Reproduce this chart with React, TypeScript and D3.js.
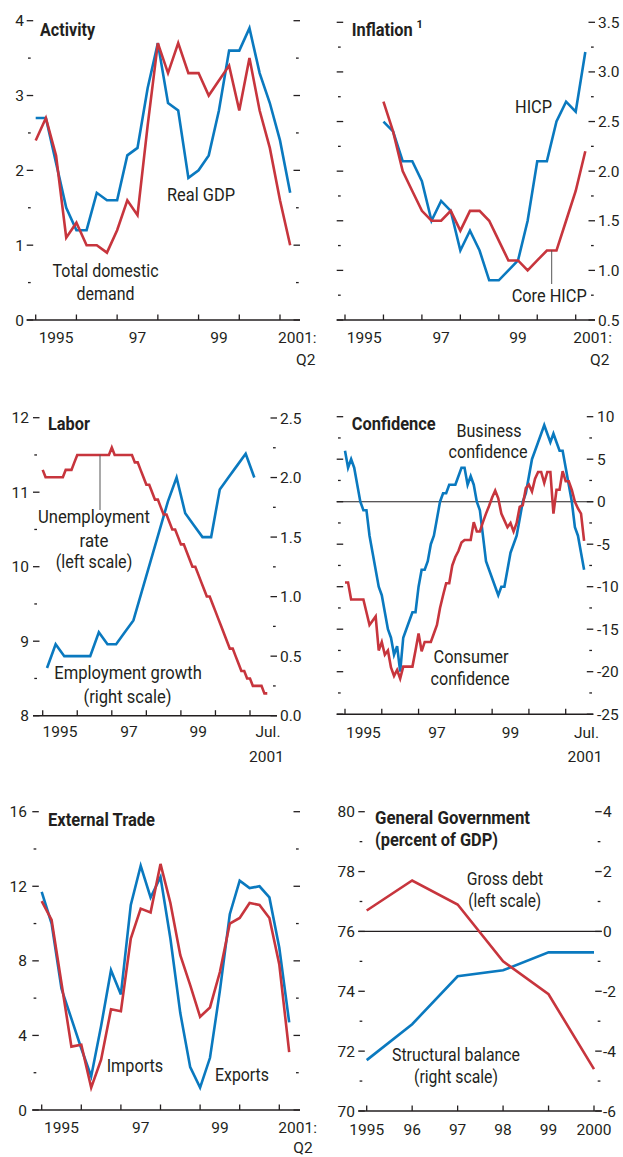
import React from "react";
import * as d3 from "d3";

const FONT = "Roboto, 'Liberation Sans', Arial, sans-serif";
const BLUE = "#0a79bf";
const RED = "#c7353d";
const INK = "#231f20";

// ---------- DATA ----------
// Activity, quarterly 1995Q1–2001Q2
const activityRealGDP = [2.7, 2.7, 2.1, 1.5, 1.2, 1.2, 1.7, 1.6, 1.6, 2.2, 2.3, 3.1, 3.7, 2.9, 2.8, 1.9, 2.0, 2.2, 2.8, 3.6, 3.6, 3.9, 3.3, 2.9, 2.4, 1.7];
const activityDomesticDemand = [2.4, 2.7, 2.2, 1.1, 1.3, 1.0, 1.0, 0.9, 1.2, 1.6, 1.4, 2.6, 3.7, 3.3, 3.7, 3.3, 3.3, 3.0, 3.2, 3.4, 2.8, 3.5, 2.8, 2.3, 1.6, 1.0];

// Inflation, quarterly 1996Q1–2001Q2
const inflationHICP = [2.5, 2.4, 2.1, 2.1, 1.9, 1.5, 1.7, 1.6, 1.2, 1.4, 1.2, 0.9, 0.9, 1.0, 1.1, 1.5, 2.1, 2.1, 2.5, 2.7, 2.6, 3.2];
const inflationCore = [2.7, 2.4, 2.0, 1.8, 1.6, 1.5, 1.5, 1.6, 1.4, 1.6, 1.6, 1.5, 1.3, 1.1, 1.1, 1.0, 1.1, 1.2, 1.2, 1.5, 1.8, 2.2];

// Labor: unemployment monthly Jan 1995–Jul 2001 (left), employment growth quarterly 1995Q1–2001Q1 (right)
const laborUnemployment = [
  11.3, 11.2, 11.2, 11.2, 11.2, 11.2, 11.2, 11.2, 11.3, 11.3, 11.3, 11.4,
  11.5, 11.5, 11.5, 11.5, 11.5, 11.5, 11.5, 11.5, 11.5, 11.5, 11.5, 11.5,
  11.6, 11.5, 11.5, 11.5, 11.5, 11.5, 11.5, 11.5, 11.4, 11.4,
  11.3, 11.2, 11.1, 11.1, 11.0, 10.9, 10.9, 10.8, 10.7, 10.7,
  10.6, 10.5, 10.5, 10.4, 10.3, 10.3, 10.2, 10.1, 10.0, 10.0,
  9.9, 9.8, 9.7, 9.6, 9.6, 9.5, 9.4, 9.3, 9.2, 9.1,
  9.0, 8.9, 8.9, 8.8, 8.7, 8.6, 8.6, 8.5, 8.5, 8.4,
  8.4, 8.4, 8.4, 8.3, 8.3,
];
const laborEmployment = [0.4, 0.6, 0.5, 0.5, 0.5, 0.5, 0.7, 0.6, 0.6, 0.7, 0.8, 1.05, 1.3, 1.55, 1.8, 2.0, 1.7, 1.6, 1.5, 1.5, 1.9, 2.0, 2.1, 2.2, 2.0];

// Confidence, monthly Jan 1995–Jul 2001
const confidenceBusiness = [
  6, 4, 5, 4, 2, 0, -1, -1, -4, -6, -8, -10,
  -11, -13, -15, -16, -18, -17, -20, -16, -15, -14, -13, -13,
  -10, -8, -8, -7, -5, -4, -2, 0, 1, 1, 2, 2,
  2, 3, 4, 4, 2, 3, 2, 0, -1, -4, -7, -8,
  -9, -10, -11, -10, -10, -8, -6, -5, -4, -2, 0, 1,
  3, 5, 6, 7, 8, 9, 8, 7, 8, 7, 6, 6,
  4, 2, 0, -3, -4, -6, -8,
];
const confidenceConsumer = [
  -9.5, -9.5, -11.5, -11.5, -11.5, -11.5, -11.5, -13, -14.5, -14, -13.5, -17.5,
  -16.5, -18, -17.5, -19.5, -20.5, -19.8, -20.8, -19.4, -19.4, -19.4, -19.4, -17.5,
  -15.5, -17.6, -16.5, -16.5, -16.5, -15.5, -14.5, -12.5, -11, -9.6, -9.6, -7.5,
  -6.5, -5.8, -4.8, -4.5, -4.5, -4.5, -2.4, -3.5, -3.5, -2.4, -1.4, -0.5,
  0.5, 1.3, 0.4, -1.4, -2.2, -3.0, -2.5, -3.5, -2.5, -0.6, -0.4, 1.6,
  2.0, 1.2, 2.7, 3.5, 3.5, 2.2, 3.5, 3.5, -1.4, 1.4, 1.4, 3.6,
  2.4, 2.4, 1.4, 0, -0.8, -1.4, -4.6,
];

// External trade, quarterly 1995Q1–2001Q2
const tradeExports = [11.7, 10.0, 6.5, 4.9, 3.3, 1.8, 4.5, 7.5, 6.2, 11.0, 13.1, 11.4, 12.5, 9.2, 5.2, 2.3, 1.2, 2.8, 6.4, 10.5, 12.3, 11.9, 12.0, 11.4, 8.7, 4.7];
const tradeImports = [11.2, 10.2, 6.8, 3.4, 3.5, 1.2, 2.7, 5.4, 5.3, 9.2, 10.8, 10.6, 13.2, 11.1, 8.3, 6.7, 5.0, 5.5, 7.4, 10.0, 10.3, 11.1, 11.0, 10.3, 7.8, 3.1];

// General government, annual
const ggYears = [1995, 1996, 1997, 1998, 1999, 2000];
const ggYearLabels = ["1995", "96", "97", "98", "99", "2000"];
const ggGrossDebt = [76.7, 77.7, 76.9, 75.0, 73.9, 71.4];
const ggStructuralBalance = [-4.3, -3.1, -1.5, -1.3, -0.7, -0.7];

// tick values
const years = [1995, 1996, 1997, 1998, 1999, 2000, 2001];
const oddYearLabels = [[1995, "1995"], [1997, "97"], [1999, "99"]] as [number, string][];

// ---------- helpers ----------
const rng = (a: number, b: number, s: number) => d3.range(a, b + s / 2, s);

function YTicks({ scale, outer, side, majors, minors, labels, labelX, fmt }: any) {
  const dir = side === "left" ? 1 : -1;
  return (
    <g>
      {majors.map((v: number) => (
        <line key={"M" + v} x1={outer} x2={outer + dir * 6.5} y1={scale(v)} y2={scale(v)} stroke={INK} strokeWidth={1.3} />
      ))}
      {minors.map((v: number) => (
        <line key={"m" + v} x1={outer + dir * 1.3} x2={outer + dir * 4} y1={scale(v)} y2={scale(v)} stroke={INK} strokeWidth={1.3} />
      ))}
      {labels &&
        majors.map((v: number) => (
          <text key={"L" + v} x={labelX} y={scale(v) + 5.5} textAnchor={side === "left" ? "end" : "start"} fontSize={15.5} fill={INK}>
            {fmt ? fmt(v) : String(v)}
          </text>
        ))}
    </g>
  );
}

function XAxis({ scale, y, x0, x1, ticks }: any) {
  return (
    <g>
      <line x1={x0} x2={x1} y1={y} y2={y} stroke={INK} strokeWidth={1.5} />
      {ticks.map((t: number) => (
        <line key={t} x1={scale(t)} x2={scale(t)} y1={y} y2={y - 5.5} stroke={INK} strokeWidth={1.3} />
      ))}
    </g>
  );
}

function T({ x, y, w, anchor = "start", bold = false, size = 18, children }: any) {
  return (
    <text
      x={x}
      y={y}
      textAnchor={anchor}
      fontSize={size}
      fontWeight={bold ? 700 : 400}
      fill={INK}
      textLength={w}
      lengthAdjust={w ? "spacingAndGlyphs" : undefined}
    >
      {children}
    </text>
  );
}

function path(data: number[], xs: (i: number) => number, y: any) {
  return d3
    .line<number>()
    .x((_, i) => xs(i))
    .y((d) => y(d))(data) as string;
}

const lineStyle = { fill: "none", strokeWidth: 2.6, strokeLinejoin: "miter" as const, strokeMiterlimit: 4 };

export default function App() {
  // Panel 1: Activity
  const x1 = d3.scaleLinear().domain([1995, 2001]).range([35.7, 280]);
  const y1 = d3.scaleLinear().domain([0, 4]).range([320, 20.7]);
  // Panel 2: Inflation
  const x2 = d3.scaleLinear().domain([1995, 2001]).range([345, 575.7]);
  const y2 = d3.scaleLinear().domain([0.5, 3.5]).range([320, 22.3]);
  // Panel 3: Labor
  const x3 = d3.scaleLinear().domain([1995, 2001]).range([42.7, 250]);
  const y3L = d3.scaleLinear().domain([8, 12]).range([715.7, 417.7]);
  const y3R = d3.scaleLinear().domain([0, 2.5]).range([715.7, 418]);
  // Panel 4: Confidence
  const x4 = d3.scaleLinear().domain([1995, 2001]).range([345, 565.7]);
  const y4 = d3.scaleLinear().domain([-25, 10]).range([714.2, 416.7]);
  // Panel 5: External trade
  const x5 = d3.scaleLinear().domain([1995, 2001]).range([41.7, 279.3]);
  const y5 = d3.scaleLinear().domain([0, 16]).range([1110, 811.7]);
  // Panel 6: General government
  const x6 = d3.scaleLinear().domain([1995, 2000]).range([366.7, 594]);
  const y6L = d3.scaleLinear().domain([70, 80]).range([1111, 811.7]);
  const y6R = d3.scaleLinear().domain([-6, 4]).range([1111, 811.7]);

  const f1 = d3.format(".1f");
  const hy = (v: number) => String(v);

  return (
    <svg width={623} height={1157} style={{ position: "absolute", left: 0, top: 0, background: "#fff" }} fontFamily={FONT}>
      <rect width={623} height={1157} fill="#fff" />

      {/* ===== Panel 1: Activity ===== */}
      <g>
        <YTicks scale={y1} outer={26.7} side="left" majors={rng(0, 4, 1)} minors={rng(0.5, 3.5, 1)} labels labelX={24} />
        <YTicks scale={y1} outer={300} side="right" majors={rng(0, 4, 1)} minors={rng(0.5, 3.5, 1)} />
        <XAxis scale={x1} y={320} x0={26.7} x1={300} ticks={years} />
        <path d={path(activityRealGDP, (i) => x1(1995 + i / 4), y1)} stroke={BLUE} {...lineStyle} />
        <path d={path(activityDomesticDemand, (i) => x1(1995 + i / 4), y1)} stroke={RED} {...lineStyle} />
        {oddYearLabels.map(([yr, s]) => (
          <text key={s} x={x1(yr + 0.5)} y={343.3} textAnchor="middle" fontSize={15.5} fill={INK}>{s}</text>
        ))}
        <text x={278} y={343.3} fontSize={15.5} fill={INK}>2001:</text>
        <text x={296} y={364.5} fontSize={15.5} fill={INK}>Q2</text>
        <T x={40} y={35.5} bold w={55}>Activity</T>
        <T x={167} y={200.5} w={68}>Real GDP</T>
        <T x={105.5} y={277} anchor="middle" w={106}>Total domestic</T>
        <T x={105.5} y={299.5} anchor="middle" w={58}>demand</T>
      </g>

      {/* ===== Panel 2: Inflation ===== */}
      <g>
        <YTicks scale={y2} outer={336.7} side="left" majors={rng(0.5, 3.5, 0.5)} minors={rng(0.75, 3.25, 0.5)} />
        <YTicks scale={y2} outer={595} side="right" majors={rng(0.5, 3.5, 0.5)} minors={rng(0.75, 3.25, 0.5)} labels labelX={598} fmt={f1} />
        <XAxis scale={x2} y={320} x0={336.7} x1={595} ticks={years} />
        <path d={path(inflationHICP, (i) => x2(1996 + i / 4), y2)} stroke={BLUE} {...lineStyle} />
        <path d={path(inflationCore, (i) => x2(1996 + i / 4), y2)} stroke={RED} {...lineStyle} />
        {oddYearLabels.map(([yr, s]) => (
          <text key={s} x={x2(yr + 0.5)} y={343.3} textAnchor="middle" fontSize={15.5} fill={INK}>{s}</text>
        ))}
        <text x={573.3} y={343.3} fontSize={15.5} fill={INK}>2001:</text>
        <text x={590} y={364.5} fontSize={15.5} fill={INK}>Q2</text>
        <T x={351.7} y={36.3} bold w={61}>Inflation</T>
        <T x={416.5} y={28} bold size={11}>1</T>
        <T x={515} y={113} w={37}>HICP</T>
        <T x={511.7} y={302} w={75}>Core HICP</T>
        <line x1={551.7} x2={551.7} y1={y2(1.2)} y2={284} stroke="#555" strokeWidth={1} />
      </g>

      {/* ===== Panel 3: Labor ===== */}
      <g>
        <YTicks scale={y3L} outer={33} side="left" majors={rng(8, 12, 1)} minors={rng(8.5, 11.5, 1)} labels labelX={29} />
        <YTicks scale={y3R} outer={277} side="right" majors={rng(0, 2.5, 0.5)} minors={rng(0.25, 2.25, 0.5)} labels labelX={280} fmt={f1} />
        <XAxis scale={x3} y={715.7} x0={33} x1={277} ticks={years} />
        <path d={path(laborEmployment, (i) => x3(1995 + (i + 0.5) / 4), y3R)} stroke={BLUE} {...lineStyle} />
        <path d={path(laborUnemployment, (i) => x3(1995 + i / 12), y3L)} stroke={RED} {...lineStyle} />
        {oddYearLabels.map(([yr, s]) => (
          <text key={s} x={x3(yr + 0.5)} y={736.7} textAnchor="middle" fontSize={15.5} fill={INK}>{s}</text>
        ))}
        <text x={268} y={736.7} textAnchor="middle" fontSize={15.5} fill={INK}>Jul.</text>
        <text x={266.5} y={761.7} textAnchor="middle" fontSize={15.5} fill={INK}>2001</text>
        <T x={48} y={430} bold w={42}>Labor</T>
        <line x1={100} x2={100} y1={y3L(11.5)} y2={510} stroke="#555" strokeWidth={1} />
        <T x={94} y={523} anchor="middle" w={112}>Unemployment</T>
        <T x={94} y={546.7} anchor="middle" w={29}>rate</T>
        <T x={94} y={567.5} anchor="middle" w={76.5}>(left scale)</T>
        <T x={128} y={679} anchor="middle" w={147.5}>Employment growth</T>
        <T x={127.5} y={703} anchor="middle" w={88}>(right scale)</T>
      </g>

      {/* ===== Panel 4: Confidence ===== */}
      <g>
        <YTicks scale={y4} outer={336.7} side="left" majors={rng(-25, 10, 5)} minors={rng(-22.5, 7.5, 5)} />
        <YTicks scale={y4} outer={593.3} side="right" majors={rng(-25, 10, 5)} minors={rng(-22.5, 7.5, 5)} labels labelX={597} fmt={hy} />
        <line x1={336.7} x2={593.3} y1={y4(0)} y2={y4(0)} stroke={INK} strokeWidth={1.1} />
        <XAxis scale={x4} y={714.2} x0={336.7} x1={593.3} ticks={years} />
        <path d={path(confidenceBusiness, (i) => x4(1995 + i / 12), y4)} stroke={BLUE} {...lineStyle} />
        <path d={path(confidenceConsumer, (i) => x4(1995 + i / 12), y4)} stroke={RED} {...lineStyle} />
        {oddYearLabels.map(([yr, s]) => (
          <text key={s} x={x4(yr + 0.5)} y={738} textAnchor="middle" fontSize={15.5} fill={INK}>{s}</text>
        ))}
        <text x={586.5} y={738} textAnchor="middle" fontSize={15.5} fill={INK}>Jul.</text>
        <text x={585} y={761.7} textAnchor="middle" fontSize={15.5} fill={INK}>2001</text>
        <T x={351.7} y={430} bold w={84}>Confidence</T>
        <T x={489} y={436.7} anchor="middle" w={65}>Business</T>
        <T x={488} y={458.3} anchor="middle" w={79}>confidence</T>
        <T x={471} y={662.7} anchor="middle" w={75}>Consumer</T>
        <T x={470} y={685} anchor="middle" w={79}>confidence</T>
      </g>

      {/* ===== Panel 5: External Trade ===== */}
      <g>
        <YTicks scale={y5} outer={32.3} side="left" majors={rng(0, 16, 4)} minors={rng(2, 14, 4)} labels labelX={27} />
        <YTicks scale={y5} outer={300} side="right" majors={rng(0, 16, 4)} minors={rng(2, 14, 4)} />
        <XAxis scale={x5} y={1110} x0={32.3} x1={300} ticks={years} />
        <path d={path(tradeExports, (i) => x5(1995 + i / 4), y5)} stroke={BLUE} {...lineStyle} />
        <path d={path(tradeImports, (i) => x5(1995 + i / 4), y5)} stroke={RED} {...lineStyle} />
        {oddYearLabels.map(([yr, s]) => (
          <text key={s} x={x5(yr + 0.5)} y={1133.3} textAnchor="middle" fontSize={15.5} fill={INK}>{s}</text>
        ))}
        <text x={278.3} y={1133.3} fontSize={15.5} fill={INK}>2001:</text>
        <text x={293.3} y={1153} fontSize={15.5} fill={INK}>Q2</text>
        <T x={48} y={825.7} bold w={107}>External Trade</T>
        <T x={106.7} y={1071.7} w={56.5}>Imports</T>
        <T x={215} y={1080.7} w={54}>Exports</T>
      </g>

      {/* ===== Panel 6: General Government ===== */}
      <g>
        <YTicks scale={y6L} outer={358.3} side="left" majors={rng(70, 80, 2)} minors={rng(71, 79, 2)} labels labelX={355} />
        <YTicks scale={y6R} outer={601.7} side="right" majors={rng(-6, 4, 2)} minors={rng(-5, 3, 2)} labels labelX={603} fmt={hy} />
        <line x1={358.3} x2={601.7} y1={y6R(0)} y2={y6R(0)} stroke={INK} strokeWidth={1.1} />
        <XAxis scale={x6} y={1111} x0={358.3} x1={601.7} ticks={ggYears} />
        <path d={path(ggStructuralBalance, (i) => x6(ggYears[i]), y6R)} stroke={BLUE} {...lineStyle} />
        <path d={path(ggGrossDebt, (i) => x6(ggYears[i]), y6L)} stroke={RED} {...lineStyle} />
        {ggYears.map((yr, i) => (
          <text key={yr} x={x6(yr)} y={1135} textAnchor="middle" fontSize={15.5} fill={INK}>{ggYearLabels[i]}</text>
        ))}
        <T x={375} y={824.3} bold w={155}>General Government</T>
        <T x={375} y={846} bold w={123}>(percent of GDP)</T>
        <T x={505} y={885} anchor="middle" w={76.5}>Gross debt</T>
        <T x={504.7} y={906.7} anchor="middle" w={73}>(left scale)</T>
        <T x={456} y={1060.7} anchor="middle" w={128}>Structural balance</T>
        <T x={456} y={1083} anchor="middle" w={84}>(right scale)</T>
      </g>
    </svg>
  );
}
